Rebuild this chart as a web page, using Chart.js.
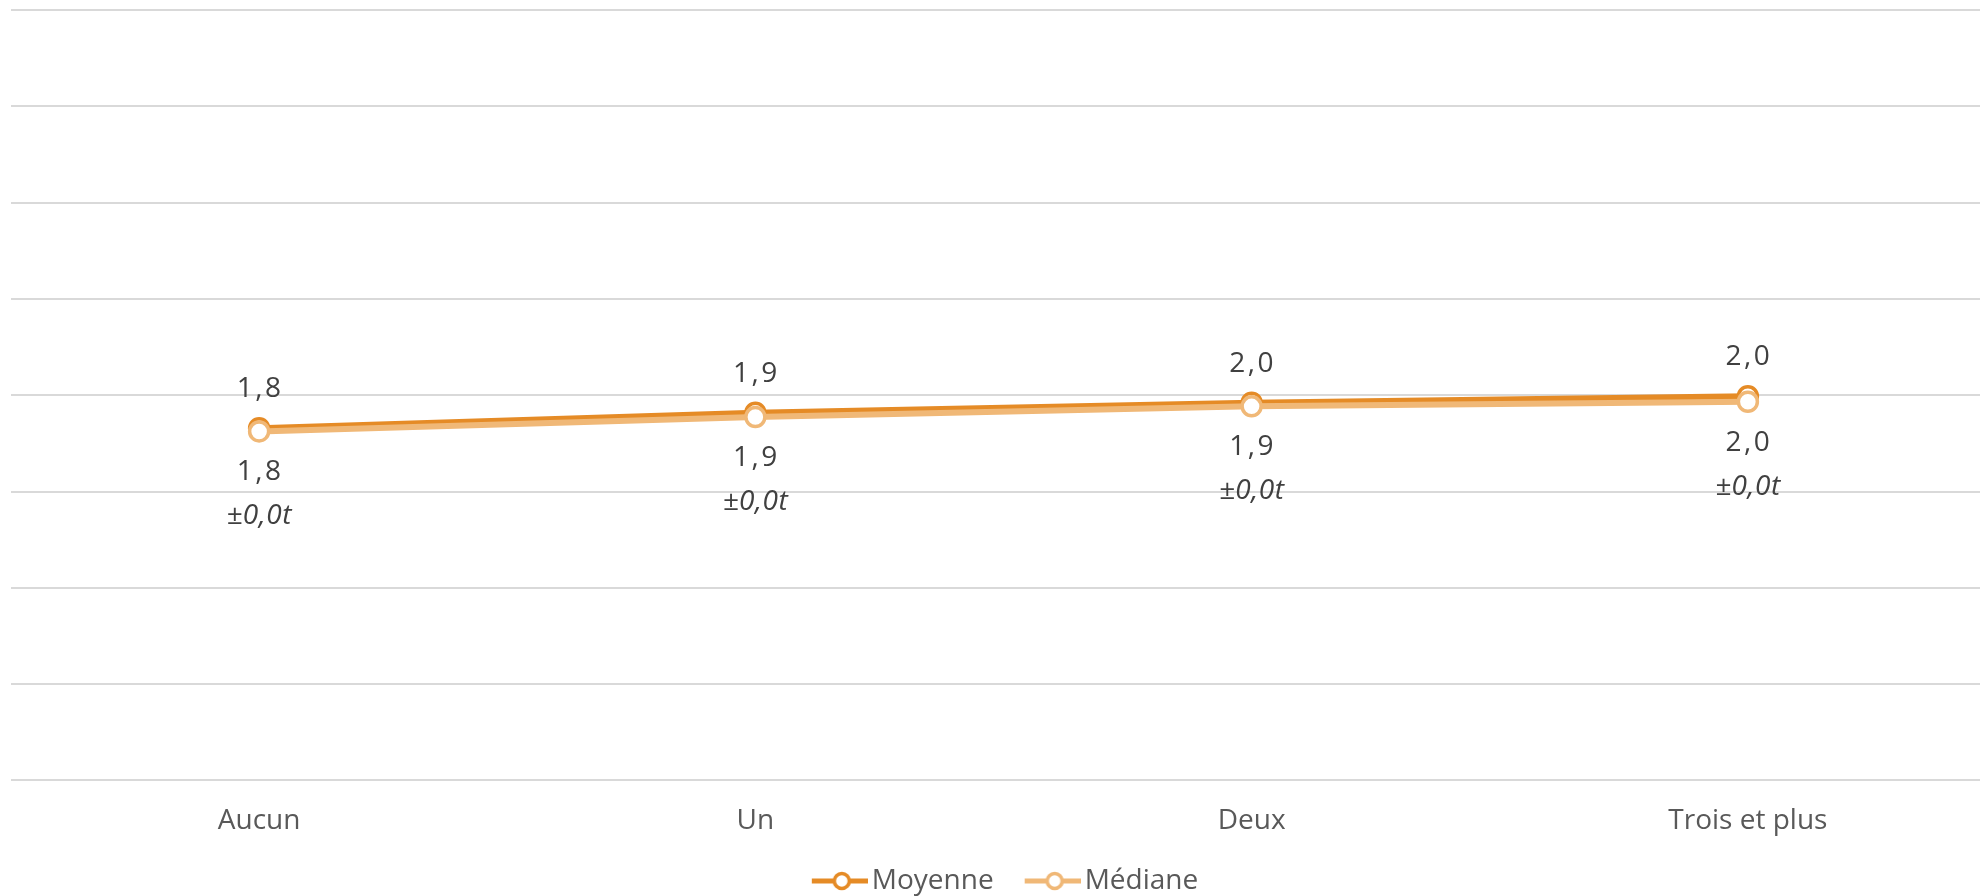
<!DOCTYPE html>
<html>
<head>
<meta charset="utf-8">
<script src="https://cdn.jsdelivr.net/npm/chart.js@4/dist/chart.umd.min.js"></script>
<style>
  html, body { margin: 0; padding: 0; background: #fff; overflow: hidden; }
  #wrap { width: 2010px; height: 905px; position: relative; }
</style>
</head>
<body>
<div id="wrap"><canvas id="myChart"></canvas></div>
<script>
// data
const categories = ["Aucun", "Un", "Deux", "Trois et plus"];
const moyenne = [1.828, 1.909, 1.961, 1.995];
const mediane = [1.812, 1.887, 1.942, 1.966];
const ecarts = ["±0,0t", "±0,0t", "±0,0t", "±0,0t"];

const darkOrange = "#E58B26";
const lightOrange = "#F0B877";
const fontName = "'Open Sans', sans-serif";

// line + circle picture for the legend, drawn on the right part of the image
function legendIcon(color) {
  const c = document.createElement("canvas");
  c.width = 92;
  c.height = 24;
  const ctx = c.getContext("2d");
  ctx.strokeStyle = color;
  ctx.lineWidth = 5;
  ctx.beginPath();
  ctx.moveTo(36, 12);
  ctx.lineTo(92, 12);
  ctx.stroke();
  ctx.fillStyle = "#fff";
  ctx.lineWidth = 3.5;
  ctx.beginPath();
  ctx.arc(66, 12, 7.5, 0, Math.PI * 2);
  ctx.fill();
  ctx.stroke();
  return c;
}

function fmt(v) {
  return v.toFixed(1).replace(".", ",");
}

// value labels above (moyenne) and below (médiane)
const valueLabels = {
  id: "valueLabels",
  afterDatasetsDraw(chart) {
    const ctx = chart.ctx;
    ctx.save();
    ctx.textAlign = "center";
    ctx.textBaseline = "middle";
    chart.data.datasets.forEach((ds, di) => {
      const meta = chart.getDatasetMeta(di);
      meta.data.forEach((pt, i) => {
        ctx.fillStyle = "#404040";
        ctx.font = "28px " + fontName;
        ctx.letterSpacing = "2.5px";
        if (di === 0) {
          ctx.fillText(fmt(ds.data[i]), pt.x + 1, pt.y - 39);
        } else {
          ctx.fillText(fmt(ds.data[i]), pt.x + 1, pt.y + 41);
          ctx.font = "italic 28px " + fontName;
          ctx.letterSpacing = "0.5px";
          ctx.fillText(ecarts[i], pt.x, pt.y + 85);
        }
      });
    });
    ctx.restore();
  }
};

// move the legend a bit to the left, like the original
const legendShift = {
  id: "legendShift",
  afterLayout(chart) {
    chart.legend.left -= 11.5;
    chart.legend.right -= 11.5;
  }
};

const data = {
  labels: categories,
  datasets: [
    {
      label: "Moyenne",
      data: moyenne,
      borderColor: darkOrange,
      backgroundColor: "#fff",
      borderWidth: 6,
      pointRadius: 9.5,
      pointBorderWidth: 3.5,
      pointBackgroundColor: "#fff",
      pointBorderColor: darkOrange,
      tension: 0,
      order: 1,
    },
    {
      label: "Médiane",
      data: mediane,
      borderColor: lightOrange,
      backgroundColor: "#fff",
      borderWidth: 6,
      pointRadius: 9.5,
      pointBorderWidth: 3.5,
      pointBackgroundColor: "#fff",
      pointBorderColor: lightOrange,
      tension: 0,
      order: 0,
    },
  ],
};

const config = {
  type: "line",
  data: data,
  plugins: [valueLabels, legendShift],
  options: {
    responsive: true,
    maintainAspectRatio: false,
    animation: false,
    layout: {
      autoPadding: false,
      padding: { left: 11, right: 14, top: 10, bottom: 0 },
    },
    plugins: {
      tooltip: { enabled: false },
      legend: {
        position: "bottom",
        labels: {
          usePointStyle: true,
          pointStyleWidth: 72,
          boxHeight: 24,
          padding: 5,
          color: "#595959",
          font: { family: fontName, size: 28 },
          generateLabels: (chart) =>
            chart.data.datasets.map((ds, i) => ({
              text: ds.label,
              pointStyle: legendIcon(ds.borderColor),
              fillStyle: ds.borderColor,
              strokeStyle: ds.borderColor,
              fontColor: "#595959",
              lineWidth: 0,
              hidden: false,
              datasetIndex: i,
            })),
        },
      },
    },
    scales: {
      x: {
        offset: true,
        grid: { display: false, drawTicks: false },
        border: { display: false },
        ticks: {
          color: "#595959",
          padding: 24,
          font: { family: fontName, size: 28 },
        },
      },
      y: {
        min: 0,
        max: 4,
        grid: { color: "#D9D9D9", lineWidth: 2, drawTicks: false },
        border: { display: false },
        ticks: { display: false, stepSize: 0.5 },
      },
    },
  },
};

const myChart = new Chart(document.getElementById("myChart"), config);
</script>
</body>
</html>
